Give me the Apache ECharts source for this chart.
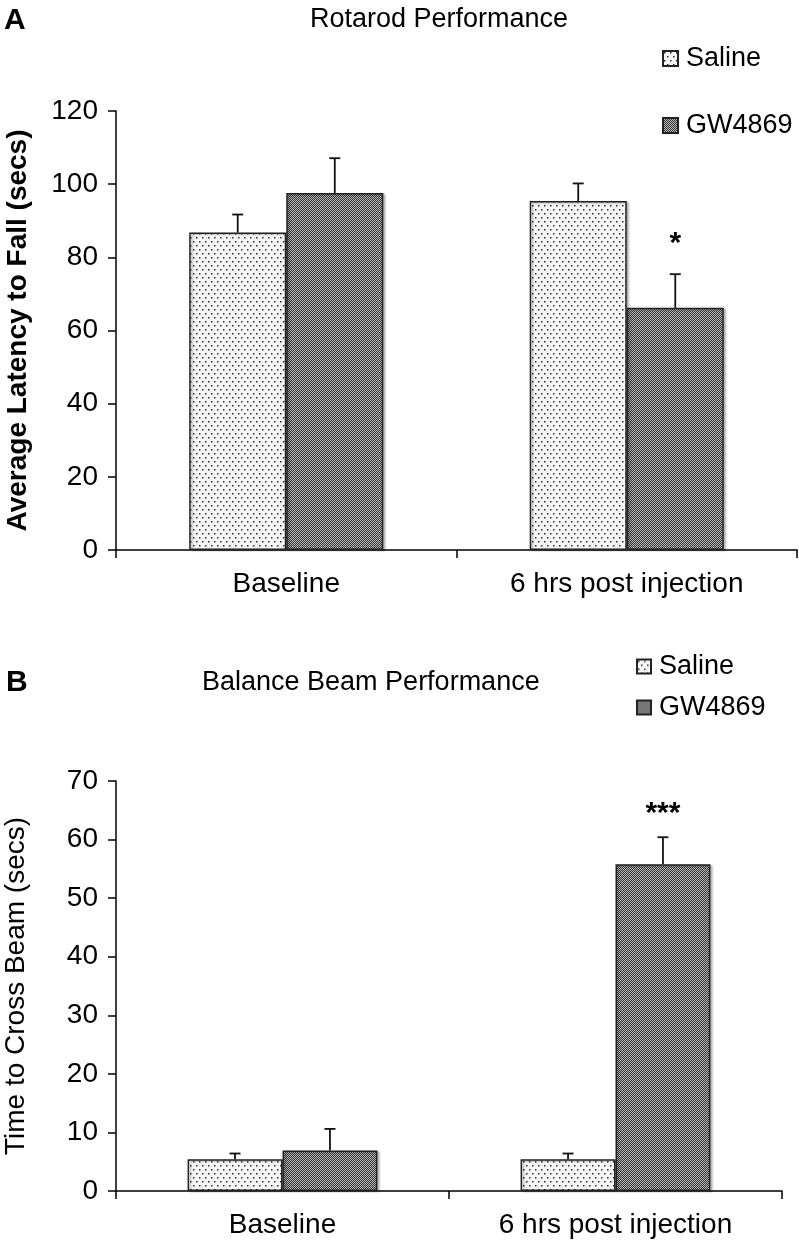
<!DOCTYPE html>
<html><head><meta charset="utf-8">
<script src="https://cdn.jsdelivr.net/npm/echarts@6/dist/echarts.min.js"></script>
<style>html,body{margin:0;padding:0;background:#fff}#c{width:799px;height:1244px}</style>
</head><body><div id="c"></div>
<script>
// ---- data ----
const categories = ['Baseline', '6 hrs post injection'];
const seriesNames = ['Saline', 'GW4869'];
const rotarodSaline = [86.8, 95.4];
const rotarodSalineErr = [4.9, 4.8];
const rotarodGW = [97.6, 66.2];
const rotarodGWErr = [9.5, 9.2];
const rotarodSig = ['', '*'];
const rotarodAxis = { min: 0, max: 120, interval: 20 };
const beamSaline = [5.4, 5.4];
const beamSalineErr = [1.0, 1.0];
const beamGW = [6.9, 55.8];
const beamGWErr = [3.7, 4.6];
const beamSig = ['', '***'];
const beamAxis = { min: 0, max: 70, interval: 10 };

// ---- patterns ----
function makeDots() {
  const c = document.createElement('canvas'); c.width = 6; c.height = 8;
  const g = c.getContext('2d');
  g.fillStyle = '#f6f6f6'; g.fillRect(0, 0, 6, 8);
  g.fillStyle = '#2a2a2a';
  g.fillRect(1, 1, 1.5, 1.5); g.fillRect(4, 5, 1.5, 1.5);
  return c;
}
function makeCheck() {
  const c = document.createElement('canvas'); c.width = 2; c.height = 2;
  const g = c.getContext('2d');
  g.fillStyle = '#353535'; g.fillRect(0, 0, 2, 2);
  g.fillStyle = '#b8b8b8'; g.fillRect(0, 0, 1, 1); g.fillRect(1, 1, 1, 1);
  return c;
}
const salineFill = { image: makeDots(), repeat: 'repeat' };
const gwFill = { image: makeCheck(), repeat: 'repeat' };

const FONT = 'Liberation Sans, Arial, sans-serif';
const BARW = 0.285;

function barSeries(name, data, fill, gi) {
  return {
    type: 'bar', name: name, data: data, xAxisIndex: gi, yAxisIndex: gi,
    barWidth: (BARW * 100) + '%', barGap: '0%',
    itemStyle: { color: fill, borderColor: '#222', borderWidth: 1.5,
      shadowColor: 'rgba(0,0,0,0.25)', shadowBlur: 2, shadowOffsetX: 2, shadowOffsetY: 1 },
    emphasis: { disabled: true }, z: 2
  };
}
function errSeries(vals, errs, sig, side, gi, starOffset) {
  return {
    type: 'custom', xAxisIndex: gi, yAxisIndex: gi, z: 5, silent: true,
    data: categories.map((_, i) => [i, vals[i], errs[i]]),
    renderItem: function (params, api) {
      const idx = api.value(0), v = api.value(1), e = api.value(2);
      const band = api.size([1, 0])[0];
      const base = api.coord([idx, v]);
      const x = base[0] + side * band * BARW / 2;
      const top = api.coord([idx, v + e])[1];
      const ls = { stroke: '#111', lineWidth: 1.8 };
      const children = [
        { type: 'line', shape: { x1: x, y1: base[1], x2: x, y2: top }, style: ls },
        { type: 'line', shape: { x1: x - 5.5, y1: top, x2: x + 5.5, y2: top }, style: ls }
      ];
      const s = sig ? sig[params.dataIndex] : '';
      if (s) {
        children.push({ type: 'text', style: { text: s, x: x, y: top - starOffset,
          align: 'center', verticalAlign: 'middle', textAlign: 'center', textVerticalAlign: 'middle',
          font: 'bold 30px ' + FONT, fill: '#000' } });
      }
      return { type: 'group', children: children };
    }
  };
}

const axisLine = { show: true, lineStyle: { color: '#000', width: 1.5 } };
const axisTick = { show: true, length: 8, lineStyle: { color: '#000', width: 1.5 } };
function xAx(gi) {
  return { type: 'category', gridIndex: gi, data: categories, axisLine: axisLine, axisTick: axisTick,
    axisLabel: { fontSize: 28, color: '#000', fontFamily: FONT, margin: 20 } };
}
function yAx(gi, ax, name, bold, gap) {
  return { type: 'value', gridIndex: gi, min: ax.min, max: ax.max, interval: ax.interval,
    axisLine: axisLine, axisTick: axisTick, splitLine: { show: false },
    axisLabel: { fontSize: 28, color: '#000', fontFamily: FONT, margin: 18 },
    name: name, nameLocation: 'middle', nameGap: gap,
    nameTextStyle: { fontSize: 28, fontWeight: bold ? 'bold' : 'normal', color: '#000', fontFamily: FONT } };
}
function leg(name, left, top, w) {
  return { data: [name], left: left, top: top, padding: 0, itemWidth: w, itemHeight: w,
    selectedMode: false, icon: 'rect',
    textStyle: { fontSize: 27, color: '#000', fontFamily: FONT, padding: [0, 0, 0, 3] } };
}

const chart = echarts.init(document.getElementById('c'), null, { renderer: 'canvas' });
chart.setOption({
  animation: false,
  backgroundColor: '#fff',
  grid: [
    { left: 116, top: 111, width: 681, height: 439, containLabel: false, outerBoundsMode: 'none' },
    { left: 116, top: 781, width: 666, height: 410, containLabel: false, outerBoundsMode: 'none' }
  ],
  xAxis: [xAx(0), xAx(1)],
  yAxis: [
    yAx(0, rotarodAxis, 'Average Latency to Fall (secs)', true, 84),
    yAx(1, beamAxis, 'Time to Cross Beam (secs)', false, 86)
  ],
  legend: [
    leg(seriesNames[0], 662, 45, 15), leg(seriesNames[1], 662, 112, 15),
    leg(seriesNames[0], 636, 653, 14), leg(seriesNames[1], 636, 694, 14)
  ],
  graphic: [
    { type: 'text', x: 4, y: 21, style: { text: 'A', font: 'bold 30px ' + FONT, fill: '#000', verticalAlign: 'middle' } },
    { type: 'text', x: 310, y: 20, style: { text: 'Rotarod Performance', font: '27px ' + FONT, fill: '#000', verticalAlign: 'middle' } },
    { type: 'text', x: 6, y: 683, style: { text: 'B', font: 'bold 30px ' + FONT, fill: '#000', verticalAlign: 'middle' } },
    { type: 'text', x: 202, y: 683, style: { text: 'Balance Beam Performance', font: '27px ' + FONT, fill: '#000', verticalAlign: 'middle' } }
  ],
  series: [
    barSeries(seriesNames[0], rotarodSaline, salineFill, 0),
    barSeries(seriesNames[1], rotarodGW, gwFill, 0),
    errSeries(rotarodSaline, rotarodSalineErr, null, -1, 0, 0),
    errSeries(rotarodGW, rotarodGWErr, rotarodSig, 1, 0, 30),
    barSeries(seriesNames[0], beamSaline, salineFill, 1),
    barSeries(seriesNames[1], beamGW, gwFill, 1),
    errSeries(beamSaline, beamSalineErr, null, -1, 1, 0),
    errSeries(beamGW, beamGWErr, beamSig, 1, 1, 23)
  ]
});
</script></body></html>
